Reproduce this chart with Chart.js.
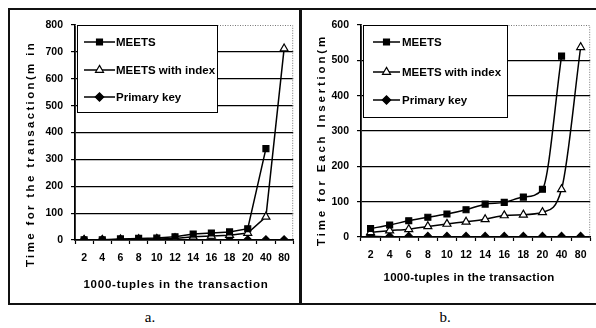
<!DOCTYPE html>
<html>
<head>
<meta charset="utf-8">
<script src="https://cdn.jsdelivr.net/npm/chart.js@4.4.1/dist/chart.umd.min.js"></script>
<style>
  html, body { margin: 0; padding: 0; background: #fff; }
  #wrap { position: relative; width: 596px; height: 328px; overflow: hidden; background: #fff; }
  .rule { position: absolute; background: #111; }
  canvas { position: absolute; }
  .cap { position: absolute; font-family: "Liberation Serif", "Times New Roman", serif; font-size: 15px; color: #000; transform: translateX(-50%); }
</style>
</head>
<body>
<div id="wrap">
  <div class="rule" style="left:8px;top:8px;width:588px;height:1.5px;"></div>
  <div class="rule" style="left:8px;top:8px;width:1.5px;height:297px;"></div>
  <div class="rule" style="left:299px;top:8px;width:2.5px;height:297px;"></div>
  <div class="rule" style="left:8px;top:303px;width:588px;height:1.5px;"></div>
  <canvas id="chartA" style="left:10px;top:10px;width:289px;height:293px;" width="289" height="293"></canvas>
  <canvas id="chartB" style="left:302px;top:10px;width:294px;height:293px;" width="294" height="293"></canvas>
  <div class="cap" style="left:150px;top:309px;">a.</div>
  <div class="cap" style="left:445px;top:309px;">b.</div>
</div>
<script>
// Transaction sizes (thousands of tuples)
const categories = ['2', '4', '6', '8', '10', '12', '14', '16', '18', '20', '40', '80'];

// a. total time for the transaction
const meetsA   = [1, 1, 4, 6, 7, 12, 22, 26, 30, 42, 340, null];
const indexA   = [0, 0, 2, 3, 4, 6, 12, 15, 18, 26, 86, 712];
const primaryA = [0, 0, 0, 0, 0, 0, 0, 0, 0, 0, 0, 0];

// b. time for each insertion
const meetsB   = [24, 34, 46, 56, 65, 77, 93, 98, 113, 135, 512, null];
const indexB   = [13, 18, 22, 30, 37, 43, 50, 61, 63, 70, 135, 537];
const primaryB = [2, 1, 1, 1, 1, 1, 1, 1, 1, 1, 1, 1];

const seriesNames = ['MEETS', 'MEETS with index', 'Primary key'];
const yMaxA = 800, yMaxB = 600, yStep = 100;

const TICK_FONT = { family: '"Liberation Sans", Arial, sans-serif', size: 10.5, weight: 'bold' };
const TITLE_FONT = 'bold 11.5px "Liberation Sans", Arial, sans-serif';
const LEGEND_FONT = 'bold 11.5px "Liberation Sans", Arial, sans-serif';

function makeDatasets(meets, index, primary, smooth) {
  const common = {
    borderColor: '#000', borderWidth: 1.5, pointBorderColor: '#000',
    pointBorderWidth: 1.2, tension: 0, spanGaps: false,
    cubicInterpolationMode: smooth ? 'monotone' : 'default'
  };
  return [
    Object.assign({}, common, { label: seriesNames[0], data: meets, pointStyle: 'rect', pointRadius: 4.2, pointBackgroundColor: '#000' }),
    Object.assign({}, common, { label: seriesNames[1], data: index, pointStyle: 'triangle', pointRadius: 4.6, pointBackgroundColor: '#fff' }),
    Object.assign({}, common, { label: seriesNames[2], data: primary, pointStyle: 'rectRot', pointRadius: 4.2, pointBackgroundColor: '#000' })
  ];
}

// Draws the legend box, axis titles and the dotted plot-area edges
const panelDecor = {
  id: 'panelDecor',
  afterDraw(chart, args, opts) {
    const ctx = chart.ctx;
    const area = chart.chartArea;
    ctx.save();

    // dotted top and right edges of the plot area
    ctx.strokeStyle = '#777';
    ctx.lineWidth = 1;
    ctx.setLineDash([1, 1.5]);
    ctx.beginPath();
    ctx.moveTo(area.left, area.top + 0.5);
    ctx.lineTo(area.right - 0.5, area.top + 0.5);
    ctx.lineTo(area.right - 0.5, area.bottom);
    ctx.stroke();
    ctx.setLineDash([]);

    // axis titles, letter-spaced to their printed length
    ctx.fillStyle = '#000';
    ctx.font = TITLE_FONT;
    ctx.textAlign = 'center';
    ctx.textBaseline = 'middle';
    const spaced = (text, len) => {
      ctx.letterSpacing = '0px';
      const w = ctx.measureText(text).width;
      ctx.letterSpacing = ((len - w) / text.length).toFixed(2) + 'px';
    };
    const xt = opts.xTitle;
    spaced(xt.text, xt.len);
    ctx.fillText(xt.text, xt.x, xt.y);
    const yt = opts.yTitle;
    spaced(yt.text, yt.len);
    ctx.save();
    ctx.translate(yt.x, yt.y);
    ctx.rotate(-Math.PI / 2);
    ctx.fillText(yt.text, 0, 0);
    ctx.restore();
    ctx.letterSpacing = '0px';

    // legend
    const lg = opts.legend;
    ctx.fillStyle = '#fff';
    ctx.fillRect(lg.x0, lg.y0, lg.x1 - lg.x0, lg.y1 - lg.y0);
    ctx.strokeStyle = '#000';
    ctx.lineWidth = 1;
    ctx.strokeRect(lg.x0 + 0.5, lg.y0 + 0.5, lg.x1 - lg.x0 - 1, lg.y1 - lg.y0 - 1);
    ctx.font = LEGEND_FONT;
    ctx.textAlign = 'left';
    ctx.textBaseline = 'middle';
    chart.data.datasets.forEach((ds, i) => {
      const y = lg.rows[i];
      ctx.strokeStyle = '#000';
      ctx.lineWidth = 1.5;
      ctx.beginPath();
      ctx.moveTo(lg.lineX0, y);
      ctx.lineTo(lg.lineX1, y);
      ctx.stroke();
      ctx.fillStyle = ds.pointBackgroundColor;
      ctx.strokeStyle = '#000';
      ctx.lineWidth = 1.2;
      Chart.helpers.drawPoint(ctx, { pointStyle: ds.pointStyle, radius: ds.pointRadius, rotation: 0, borderWidth: 1.2 },
        (lg.lineX0 + lg.lineX1) / 2, y);
      ctx.fillStyle = '#000';
      ctx.fillText(ds.label, lg.textX, y + 0.5);
    });
    ctx.restore();
  }
};

function buildChart(id, datasets, yMax, geom, decor) {
  return new Chart(document.getElementById(id), {
    type: 'line',
    data: { labels: categories, datasets },
    plugins: [panelDecor],
    options: {
      responsive: false,
      animation: false,
      devicePixelRatio: 1,
      layout: { padding: { top: geom.top, right: geom.right, left: 0, bottom: 0 } },
      plugins: { legend: { display: false }, tooltip: { enabled: false }, panelDecor: decor },
      scales: {
        x: {
          offset: true,
          grid: { offset: true, drawOnChartArea: false, drawTicks: true, tickLength: 4, tickColor: '#000', tickWidth: 1.2 },
          border: { color: '#000', width: 1.8 },
          ticks: { color: '#000', font: TICK_FONT, padding: 8, maxRotation: 0, autoSkip: false },
          afterFit: (s) => { s.height = geom.xAxisH; }
        },
        y: {
          min: 0, max: yMax,
          grid: {
            color: (c) => (c.tick && (c.tick.value === 0 || c.tick.value === yMax)) ? 'rgba(0,0,0,0)' : '#000',
            lineWidth: 1.2, drawTicks: true, tickLength: 4, tickColor: '#000'
          },
          border: { color: '#000', width: 1.8 },
          ticks: { stepSize: yStep, color: '#000', font: TICK_FONT, padding: 8 },
          afterFit: (s) => { s.width = geom.yAxisW; }
        }
      }
    }
  });
}

buildChart('chartA', makeDatasets(meetsA, indexA, primaryA, false), yMaxA,
  { top: 15, right: 5, xAxisH: 63, yAxisW: 65 },
  {
    xTitle: { text: '1000-tuples in the transaction', x: 166, y: 275, len: 185 },
    yTitle: { text: 'Time for the transaction(m in', x: 21, y: 144, len: 226 },
    legend: { x0: 67, y0: 15, x1: 208, y1: 103, rows: [32, 60, 87], lineX0: 74, lineX1: 105, textX: 106 }
  });

buildChart('chartB', makeDatasets(meetsB, indexB, primaryB, true), yMaxB,
  { top: 15, right: 4, xAxisH: 66, yAxisW: 59 },
  {
    xTitle: { text: '1000-tuples in the transaction', x: 167, y: 268, len: 171 },
    yTitle: { text: 'Time for Each Insertion(m', x: 20, y: 130, len: 212 },
    legend: { x0: 61, y0: 15, x1: 206, y1: 108, rows: [32, 62, 90], lineX0: 71, lineX1: 98, textX: 100 }
  });
</script>
</body>
</html>
